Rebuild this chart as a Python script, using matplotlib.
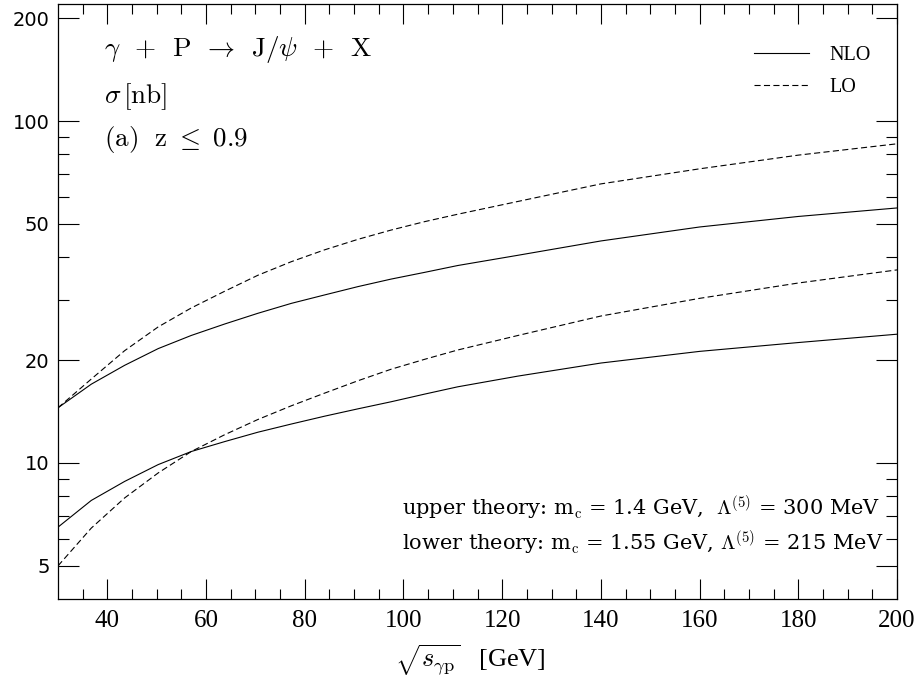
import matplotlib
matplotlib.use("Agg")
import matplotlib.pyplot as plt
from matplotlib.ticker import FixedLocator, NullFormatter, FixedFormatter

plt.rcParams['mathtext.fontset'] = 'cm'

# ---- data ----
sqrt_s = [30, 36.75, 43.5, 50.3, 57, 63.8, 70.5, 77.3, 84, 90.8, 97.5, 104.3,
          111, 123.2, 140, 160, 180, 200]
upper_nlo = [14.5, 17.0, 19.3, 21.6, 23.6, 25.5, 27.4, 29.3, 31.0, 32.8, 34.5,
             36.1, 37.8, 40.5, 44.6, 49.0, 52.6, 55.7]
upper_lo = [14.5, 17.6, 21.3, 25.0, 28.4, 31.8, 35.4, 38.8, 42.0, 45.1, 48.0,
            50.8, 53.4, 58.2, 65.5, 72.5, 79.5, 85.8]
lower_nlo = [6.49, 7.77, 8.83, 9.89, 10.8, 11.55, 12.3, 13.0, 13.7, 14.4, 15.1,
             15.9, 16.7, 17.95, 19.6, 21.2, 22.5, 23.8]
lower_lo = [5.0, 6.45, 7.90, 9.35, 10.8, 12.1, 13.4, 14.7, 16.0, 17.4, 18.8,
            20.1, 21.4, 23.6, 26.9, 30.3, 33.6, 36.7]

y_major = [5, 10, 20, 50, 100, 200]
y_major_labels = ["5", "10", "20", "50", "100", "200"]
y_minor = [6, 7, 8, 9, 30, 40, 60, 70, 80, 90]
x_major = [40, 60, 80, 100, 120, 140, 160, 180, 200]
x_minor = [35, 45, 50, 55, 65, 70, 75, 85, 90, 95, 105, 110, 115, 125, 130, 135,
           145, 150, 155, 165, 170, 175, 185, 190, 195]

fig = plt.figure(figsize=(9.19, 6.82), dpi=100)
ax = fig.add_axes([58/919, 1-599/682, 839/919, 595/682])

lw = 0.8
dash = (0, (5.5, 3.0))
l1, = ax.plot(sqrt_s, upper_nlo, color='black', lw=lw, label='NLO')
l2, = ax.plot(sqrt_s, upper_lo, color='black', lw=lw, linestyle=dash, label='LO')
ax.plot(sqrt_s, lower_nlo, color='black', lw=lw)
ax.plot(sqrt_s, lower_lo, color='black', lw=lw, linestyle=dash)

ax.set_yscale('log')
ax.set_xlim(30, 200)
ax.set_ylim(4.0, 220)

ax.yaxis.set_major_locator(FixedLocator(y_major))
ax.yaxis.set_major_formatter(FixedFormatter(y_major_labels))
ax.yaxis.set_minor_locator(FixedLocator(y_minor))
ax.yaxis.set_minor_formatter(NullFormatter())
ax.xaxis.set_major_locator(FixedLocator(x_major))
ax.xaxis.set_minor_locator(FixedLocator(x_minor))

ax.tick_params(axis='both', which='both', direction='in', top=True, right=True,
               width=0.8, color='black')
ax.tick_params(axis='x', which='major', length=14.4, pad=8)
ax.tick_params(axis='x', which='minor', length=7.2)
ax.tick_params(axis='y', which='major', length=15, pad=6)
ax.tick_params(axis='y', which='minor', length=8)
for lab in ax.get_xticklabels():
    lab.set_fontfamily('Liberation Serif')
    lab.set_fontsize(18)
for lab in ax.get_yticklabels():
    lab.set_fontfamily('DejaVu Sans')
    lab.set_fontsize(14)
for sp in ax.spines.values():
    sp.set_linewidth(0.9)

serif = 'DejaVu Serif'
ax.text(0.0548, 0.924, r'$\gamma\ \,+\ \,\mathrm{P}\ \,\rightarrow\ \,\mathrm{J}/\psi\ \,+\ \,\mathrm{X}$',
        transform=ax.transAxes, fontsize=19.5, va='center', ha='left')
ax.text(0.0548, 0.845, r'$\sigma\,[\mathrm{nb}]$',
        transform=ax.transAxes, fontsize=19.5, va='center', ha='left')
ax.text(0.0548, 0.773, r'$\mathrm{(a)}\ \ \mathrm{z}\ \leq\ \mathrm{0.9}$',
        transform=ax.transAxes, fontsize=19.5, va='center', ha='left')

ax.text(0.410, 0.153, r'upper theory: m$_\mathrm{c}$ = 1.4 GeV,  $\Lambda^{(5)}$ = 300 MeV',
        transform=ax.transAxes, fontsize=15.0, va='center', ha='left', family=serif)
ax.text(0.410, 0.094, r'lower theory: m$_\mathrm{c}$ = 1.55 GeV, $\Lambda^{(5)}$ = 215 MeV',
        transform=ax.transAxes, fontsize=15.0, va='center', ha='left', family=serif)

leg = ax.legend(handles=[l1, l2], loc='upper right', bbox_to_anchor=(0.9925, 0.963),
                frameon=False, handlelength=2.75, handletextpad=1.0,
                labelspacing=0.62, borderaxespad=0.6,
                prop={'family': 'Liberation Serif', 'size': 14.5})

fig.text(470/919, 1-660/682, r'$\sqrt{s_{\gamma \mathrm{p}}}$   [GeV]',
         fontsize=19, ha='center', va='center', family='Liberation Serif')

fig.savefig('out.png', dpi=100)
